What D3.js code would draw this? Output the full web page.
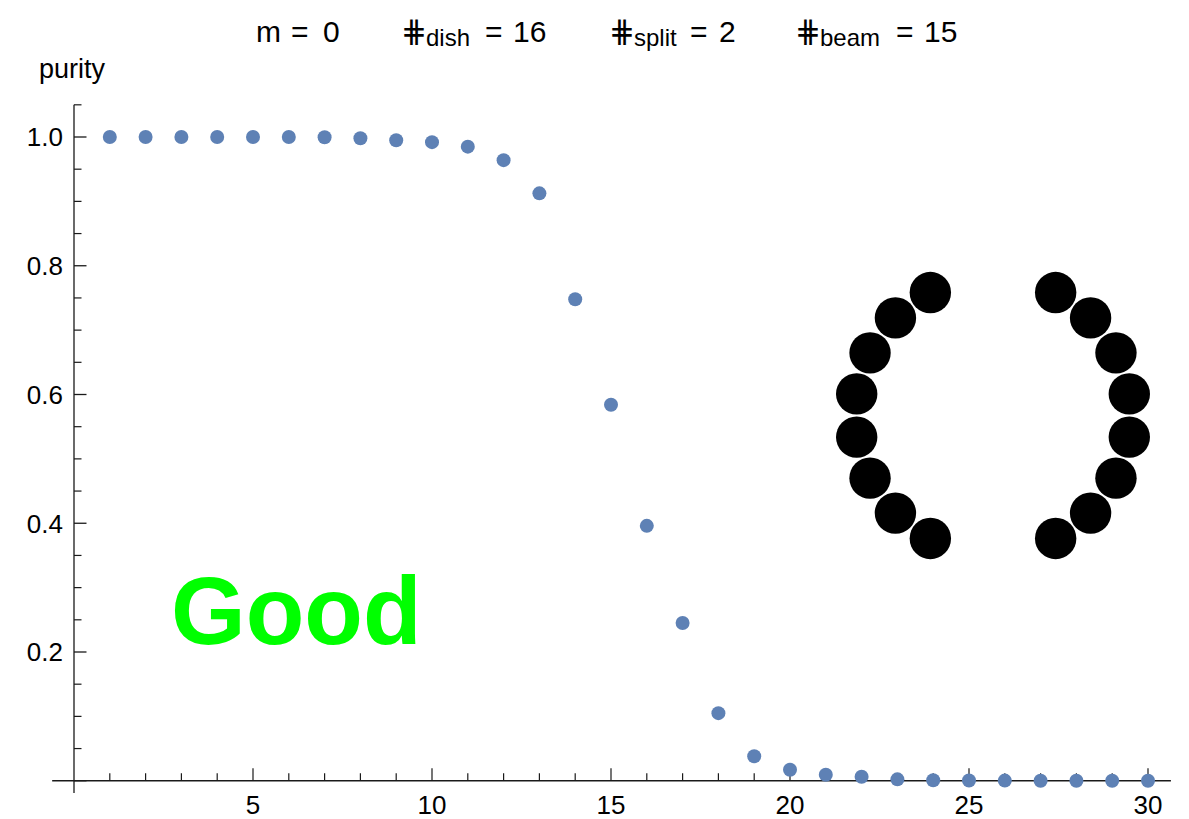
<!DOCTYPE html>
<html>
<head>
<meta charset="utf-8">
<script src="https://cdn.jsdelivr.net/npm/d3@7"></script>
<style>
  html, body { margin: 0; padding: 0; background: #fff; }
  svg { display: block; font-family: "Liberation Sans", Arial, sans-serif; }
</style>
</head>
<body>
<svg id="chart" width="1189" height="819"></svg>
<script>
// ---- data ----
const xValues = [1,2,3,4,5,6,7,8,9,10,11,12,13,14,15,16,17,18,19,20,21,22,23,24,25,26,27,28,29,30];
const purity  = [1.0,1.0,1.0,1.0,1.0,1.0,0.9995,0.998,0.995,0.992,0.985,0.964,0.9125,0.748,0.584,0.396,0.245,0.105,0.038,0.017,0.0094,0.0063,0.0022,0.0007,0.0003,0.0002,0.0001,0,0,0];
const xTickLabels = [5,10,15,20,25,30];
const yTickLabels = [0.2,0.4,0.6,0.8,1.0];
const titleSymbols = ["", "\u22D5", "\u22D5", "\u22D5"];
const titleSubs    = ["", "dish", "split", "beam"];
const titleNames   = ["m", "", "", ""];
const titleValues  = ["0", "16", "2", "15"];
// x anchor of each piece: [symbol/name, subscript, "=", value]
const titleX = [[256, 0, 291, 323], [401, 426, 485, 513], [609, 634, 690, 719], [795, 820, 896, 924]];
// dish layout: angles (deg, counter-clockwise from +x) on a unit ring
const dishAngles = [9,27,45,63,-9,-27,-45,-63,117,135,153,171,189,207,225,243];
const verdict = "Good";

// ---- chart ----
const svg = d3.select("#chart");
const x = d3.scaleLinear().domain([0, 30]).range([74, 1148]);
const y = d3.scaleLinear().domain([0, 1]).range([780.75, 137]);
const axisColor = "#1a1a1a";

// axes lines
svg.append("line").attr("x1", x(-0.61)).attr("x2", x(30.64))
  .attr("y1", y(0)).attr("y2", y(0)).attr("stroke", axisColor).attr("stroke-width", 1.3);
svg.append("line").attr("x1", x(0)).attr("x2", x(0))
  .attr("y1", y(1.05)).attr("y2", y(-0.019)).attr("stroke", axisColor).attr("stroke-width", 1.3);

// x ticks
const xMinor = d3.range(1, 31).filter(v => v % 5 !== 0);
svg.append("g").selectAll("line").data(xMinor).join("line")
  .attr("x1", d => x(d)).attr("x2", d => x(d))
  .attr("y1", y(0)).attr("y2", y(0) - 7.5)
  .attr("stroke", axisColor).attr("stroke-width", 1.2);
svg.append("g").selectAll("line").data(xTickLabels).join("line")
  .attr("x1", d => x(d)).attr("x2", d => x(d))
  .attr("y1", y(0)).attr("y2", y(0) - 12.5)
  .attr("stroke", axisColor).attr("stroke-width", 1.2);
svg.append("g").selectAll("text").data(xTickLabels).join("text")
  .attr("x", d => x(d)).attr("y", 814)
  .attr("text-anchor", "middle").attr("font-size", 26).attr("fill", "#000")
  .text(d => d);

// y ticks
const yMinor = d3.range(1, 22).map(i => i * 0.05).filter(v => Math.abs(v / 0.2 - Math.round(v / 0.2)) > 1e-6);
svg.append("g").selectAll("line").data(yMinor).join("line")
  .attr("x1", x(0)).attr("x2", x(0) + 7.5)
  .attr("y1", d => y(d)).attr("y2", d => y(d))
  .attr("stroke", axisColor).attr("stroke-width", 1.2);
svg.append("g").selectAll("line").data([0].concat(yTickLabels)).join("line")
  .attr("x1", x(0)).attr("x2", x(0) + 12.5)
  .attr("y1", d => y(d)).attr("y2", d => y(d))
  .attr("stroke", axisColor).attr("stroke-width", 1.3);
svg.append("g").selectAll("text").data(yTickLabels).join("text")
  .attr("x", 63).attr("y", d => y(d) + 9.3)
  .attr("text-anchor", "end").attr("font-size", 26).attr("fill", "#000")
  .text(d => d3.format(".1f")(d));

// axis label
svg.append("text").attr("x", 39).attr("y", 78)
  .attr("font-size", 27).attr("fill", "#000").text("purity");

// points
svg.append("g").selectAll("circle").data(xValues).join("circle")
  .attr("cx", d => x(d)).attr("cy", (d, i) => y(purity[i]))
  .attr("r", 7).attr("fill", "#5E81B5");

// title
const title = svg.append("g").attr("fill", "#000");
titleValues.forEach((v, i) => {
  const px = titleX[i];
  if (titleNames[i]) {
    title.append("text").attr("x", px[0]).attr("y", 42).attr("font-size", 30).text(titleNames[i]);
  }
  if (titleSymbols[i]) {
    title.append("text").attr("x", px[0]).attr("y", 42).attr("font-size", 31)
      .attr("font-family", "'DejaVu Sans', sans-serif").attr("font-weight", 200)
      .text(titleSymbols[i]);
  }
  if (titleSubs[i]) {
    title.append("text").attr("x", px[1]).attr("y", 46).attr("font-size", 24).text(titleSubs[i]);
  }
  title.append("text").attr("x", px[2]).attr("y", 42).attr("font-size", 30).text("=");
  title.append("text").attr("x", px[3]).attr("y", 42).attr("font-size", 30).text(v);
});

// verdict
svg.append("text").attr("x", 171).attr("y", 644)
  .attr("font-size", 96).attr("font-weight", "bold").attr("fill", "#00FF00")
  .text(verdict);

// dish inset
const ix = d3.scaleLinear().domain([-1, 1]).range([993 - 138, 993 + 138]);
const iy = d3.scaleLinear().domain([-1, 1]).range([415.5 + 138, 415.5 - 138]);
svg.append("g").selectAll("circle").data(dishAngles).join("circle")
  .attr("cx", d => ix(Math.cos(d * Math.PI / 180)))
  .attr("cy", d => iy(Math.sin(d * Math.PI / 180)))
  .attr("r", 20.7).attr("fill", "#000");
</script>
</body>
</html>
